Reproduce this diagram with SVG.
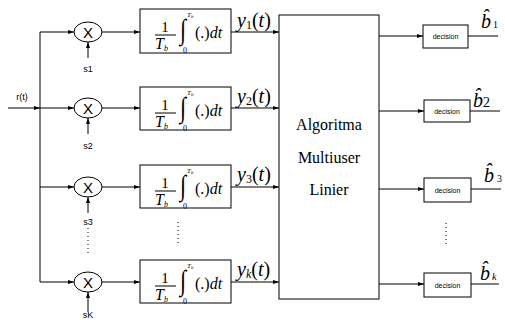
<svg xmlns="http://www.w3.org/2000/svg" width="505" height="320" viewBox="0 0 505 320">
<defs>
<marker id="ah" markerWidth="6" markerHeight="4" refX="6" refY="2" orient="auto" markerUnits="userSpaceOnUse">
<path d="M0,0 L6,2 L0,4 Z" fill="#000"/>
</marker>
<style>
.ln{stroke:#000;stroke-width:1;fill:none}
.bx{stroke:#000;stroke-width:1;fill:#fff}
.sans{font-family:"Liberation Sans",Arial,sans-serif;fill:#000}
.sl{font-size:9px;text-anchor:middle}
.dec{font-size:7px;text-anchor:middle}
.dot{stroke:#000;stroke-width:1;stroke-dasharray:1 3;fill:none}
</style>
</defs>
<rect width="505" height="320" fill="#fff"/>

<g id="connectors">
<path class="ln" d="M40,32 V282"/>
<path class="ln" d="M8,108 H40" marker-end="url(#ah)"/>
<path class="ln" d="M40,32 H74" marker-end="url(#ah)"/>
<path class="ln" d="M40,108 H74" marker-end="url(#ah)"/>
<path class="ln" d="M40,187 H74" marker-end="url(#ah)"/>
<path class="ln" d="M40,282 H74" marker-end="url(#ah)"/>
<path class="ln" d="M88,58 V42" marker-end="url(#ah)"/>
<path class="ln" d="M88,134 V118" marker-end="url(#ah)"/>
<path class="ln" d="M88,213 V197" marker-end="url(#ah)"/>
<path class="ln" d="M88,312 V292" marker-end="url(#ah)"/>
<path class="ln" d="M102,32 H140" marker-end="url(#ah)"/>
<path class="ln" d="M102,108 H140" marker-end="url(#ah)"/>
<path class="ln" d="M102,187 H140" marker-end="url(#ah)"/>
<path class="ln" d="M102,282 H140" marker-end="url(#ah)"/>
<path class="ln" d="M231,32 H279" marker-end="url(#ah)"/>
<path class="ln" d="M231,108 H279" marker-end="url(#ah)"/>
<path class="ln" d="M231,187 H279" marker-end="url(#ah)"/>
<path class="ln" d="M231,282 H279" marker-end="url(#ah)"/>
<path class="ln" d="M379,36 H423" marker-end="url(#ah)"/>
<path class="ln" d="M379,111 H424" marker-end="url(#ah)"/>
<path class="ln" d="M379,189 H424" marker-end="url(#ah)"/>
<path class="ln" d="M379,284 H424" marker-end="url(#ah)"/>
<path class="ln" d="M468,36 H498"/>
<path class="ln" d="M470,111 H500"/>
<path class="ln" d="M471,189 H501"/>
<path class="ln" d="M471,284 H499"/>
<path class="dot" d="M88,228 V254"/>
<path class="dot" d="M178,222 V246"/>
<path class="dot" d="M446,223 V247"/>
</g>

<text font-family="Liberation Sans, Arial, sans-serif" x="22" y="100" font-size="9" text-anchor="middle">r(t)</text>

<g id="mult1"><ellipse class="bx" cx="88" cy="32" rx="14" ry="10"/><text class="sans" x="88" y="37.5" font-size="15" text-anchor="middle">X</text><text class="sans sl" x="88" y="72">s1</text></g>
<g id="mult2"><ellipse class="bx" cx="88" cy="108" rx="14" ry="10"/><text class="sans" x="88" y="113.5" font-size="15" text-anchor="middle">X</text><text class="sans sl" x="88" y="149">s2</text></g>
<g id="mult3"><ellipse class="bx" cx="88" cy="187" rx="14" ry="10"/><text class="sans" x="88" y="192.5" font-size="15" text-anchor="middle">X</text><text class="sans sl" x="88" y="225">s3</text></g>
<g id="mult4"><ellipse class="bx" cx="88" cy="282" rx="14" ry="10"/><text class="sans" x="88" y="287.5" font-size="15" text-anchor="middle">X</text><text class="sans sl" x="88" y="318">sK</text></g>

<g id="int1" transform="translate(0,9)" font-family="Liberation Serif, Times New Roman, serif">
<rect class="bx" x="140" y="0" width="91" height="44"/>
<text x="165" y="23" font-size="15" text-anchor="middle">1</text>
<path class="ln" d="M155,26 H176"/>
<text font-style="italic" x="155" y="40" font-size="16">T</text><text font-style="italic" x="164" y="42" font-size="8">b</text>
<text transform="translate(180,30) scale(1,1.3)" font-size="22">∫</text>
<text font-style="italic" x="187" y="8" font-size="7">T</text><text font-style="italic" x="191" y="9" font-size="5">b</text>
<text x="183" y="44" font-size="8">0</text>
<text x="195" y="29" font-size="16">(.)<tspan font-style="italic">dt</tspan></text>
</g>
<g id="int2" transform="translate(0,87)" font-family="Liberation Serif, Times New Roman, serif">
<rect class="bx" x="140" y="0" width="91" height="43"/>
<text x="165" y="23" font-size="15" text-anchor="middle">1</text>
<path class="ln" d="M155,26 H176"/>
<text font-style="italic" x="155" y="40" font-size="16">T</text><text font-style="italic" x="164" y="42" font-size="8">b</text>
<text transform="translate(180,30) scale(1,1.3)" font-size="22">∫</text>
<text font-style="italic" x="187" y="8" font-size="7">T</text><text font-style="italic" x="191" y="9" font-size="5">b</text>
<text x="183" y="44" font-size="8">0</text>
<text x="195" y="29" font-size="16">(.)<tspan font-style="italic">dt</tspan></text>
</g>
<g id="int3" transform="translate(0,165)" font-family="Liberation Serif, Times New Roman, serif">
<rect class="bx" x="140" y="0" width="91" height="43"/>
<text x="165" y="23" font-size="15" text-anchor="middle">1</text>
<path class="ln" d="M155,26 H176"/>
<text font-style="italic" x="155" y="40" font-size="16">T</text><text font-style="italic" x="164" y="42" font-size="8">b</text>
<text transform="translate(180,30) scale(1,1.3)" font-size="22">∫</text>
<text font-style="italic" x="187" y="8" font-size="7">T</text><text font-style="italic" x="191" y="9" font-size="5">b</text>
<text x="183" y="44" font-size="8">0</text>
<text x="195" y="29" font-size="16">(.)<tspan font-style="italic">dt</tspan></text>
</g>
<g id="int4" transform="translate(0,260)" font-family="Liberation Serif, Times New Roman, serif">
<rect class="bx" x="140" y="0" width="91" height="43"/>
<text x="165" y="23" font-size="15" text-anchor="middle">1</text>
<path class="ln" d="M155,26 H176"/>
<text font-style="italic" x="155" y="40" font-size="16">T</text><text font-style="italic" x="164" y="42" font-size="8">b</text>
<text transform="translate(180,30) scale(1,1.3)" font-size="22">∫</text>
<text font-style="italic" x="187" y="8" font-size="7">T</text><text font-style="italic" x="191" y="9" font-size="5">b</text>
<text x="183" y="44" font-size="8">0</text>
<text x="195" y="29" font-size="16">(.)<tspan font-style="italic">dt</tspan></text>
</g>

<g id="ylabels" font-family="Liberation Serif, Times New Roman, serif" font-size="20">
<text x="237" y="27"><tspan font-style="italic">y</tspan><tspan font-size="12" dy="2">1</tspan><tspan dy="-2">(</tspan><tspan font-style="italic">t</tspan>)</text>
<text x="237" y="103"><tspan font-style="italic">y</tspan><tspan font-size="12" dy="2">2</tspan><tspan dy="-2">(</tspan><tspan font-style="italic">t</tspan>)</text>
<text x="237" y="181"><tspan font-style="italic">y</tspan><tspan font-size="12" dy="2">3</tspan><tspan dy="-2">(</tspan><tspan font-style="italic">t</tspan>)</text>
<text x="237" y="276"><tspan font-style="italic">y</tspan><tspan font-style="italic" font-size="12" dy="2">k</tspan><tspan dy="-2">(</tspan><tspan font-style="italic">t</tspan>)</text>
</g>

<g id="mud">
<rect class="bx" x="279" y="15" width="100" height="284"/>
<g font-family="Liberation Serif, Times New Roman, serif" font-size="16" text-anchor="middle">
<text x="329" y="130">Algoritma</text>
<text x="329" y="163">Multiuser</text>
<text x="329" y="195">Linier</text>
</g>
</g>

<g id="dec1"><rect class="bx" x="423" y="25" width="45" height="23"/><text class="sans dec" x="445.5" y="39">decision</text></g>
<g id="dec2"><rect class="bx" x="424" y="100" width="46" height="22"/><text class="sans dec" x="447" y="113.5">decision</text></g>
<g id="dec3"><rect class="bx" x="424" y="178" width="47" height="24"/><text class="sans dec" x="447.5" y="192.5">decision</text></g>
<g id="dec4"><rect class="bx" x="424" y="273" width="47" height="24"/><text class="sans dec" x="447.5" y="287.5">decision</text></g>

<g id="blabels" font-family="Liberation Serif, Times New Roman, serif">
<text x="481" y="28" font-size="20"><tspan font-style="italic">b̂</tspan><tspan font-size="10" dx="2">1</tspan></text>
<text x="473" y="107" font-size="20"><tspan font-style="italic">b̂</tspan><tspan font-size="14">2</tspan></text>
<text x="484" y="182" font-size="20"><tspan font-style="italic">b̂</tspan><tspan font-size="10" dx="3">3</tspan></text>
<text x="480" y="280" font-size="20"><tspan font-style="italic">b̂</tspan><tspan font-style="italic" font-size="10" dx="2">k</tspan></text>
</g>
</svg>
